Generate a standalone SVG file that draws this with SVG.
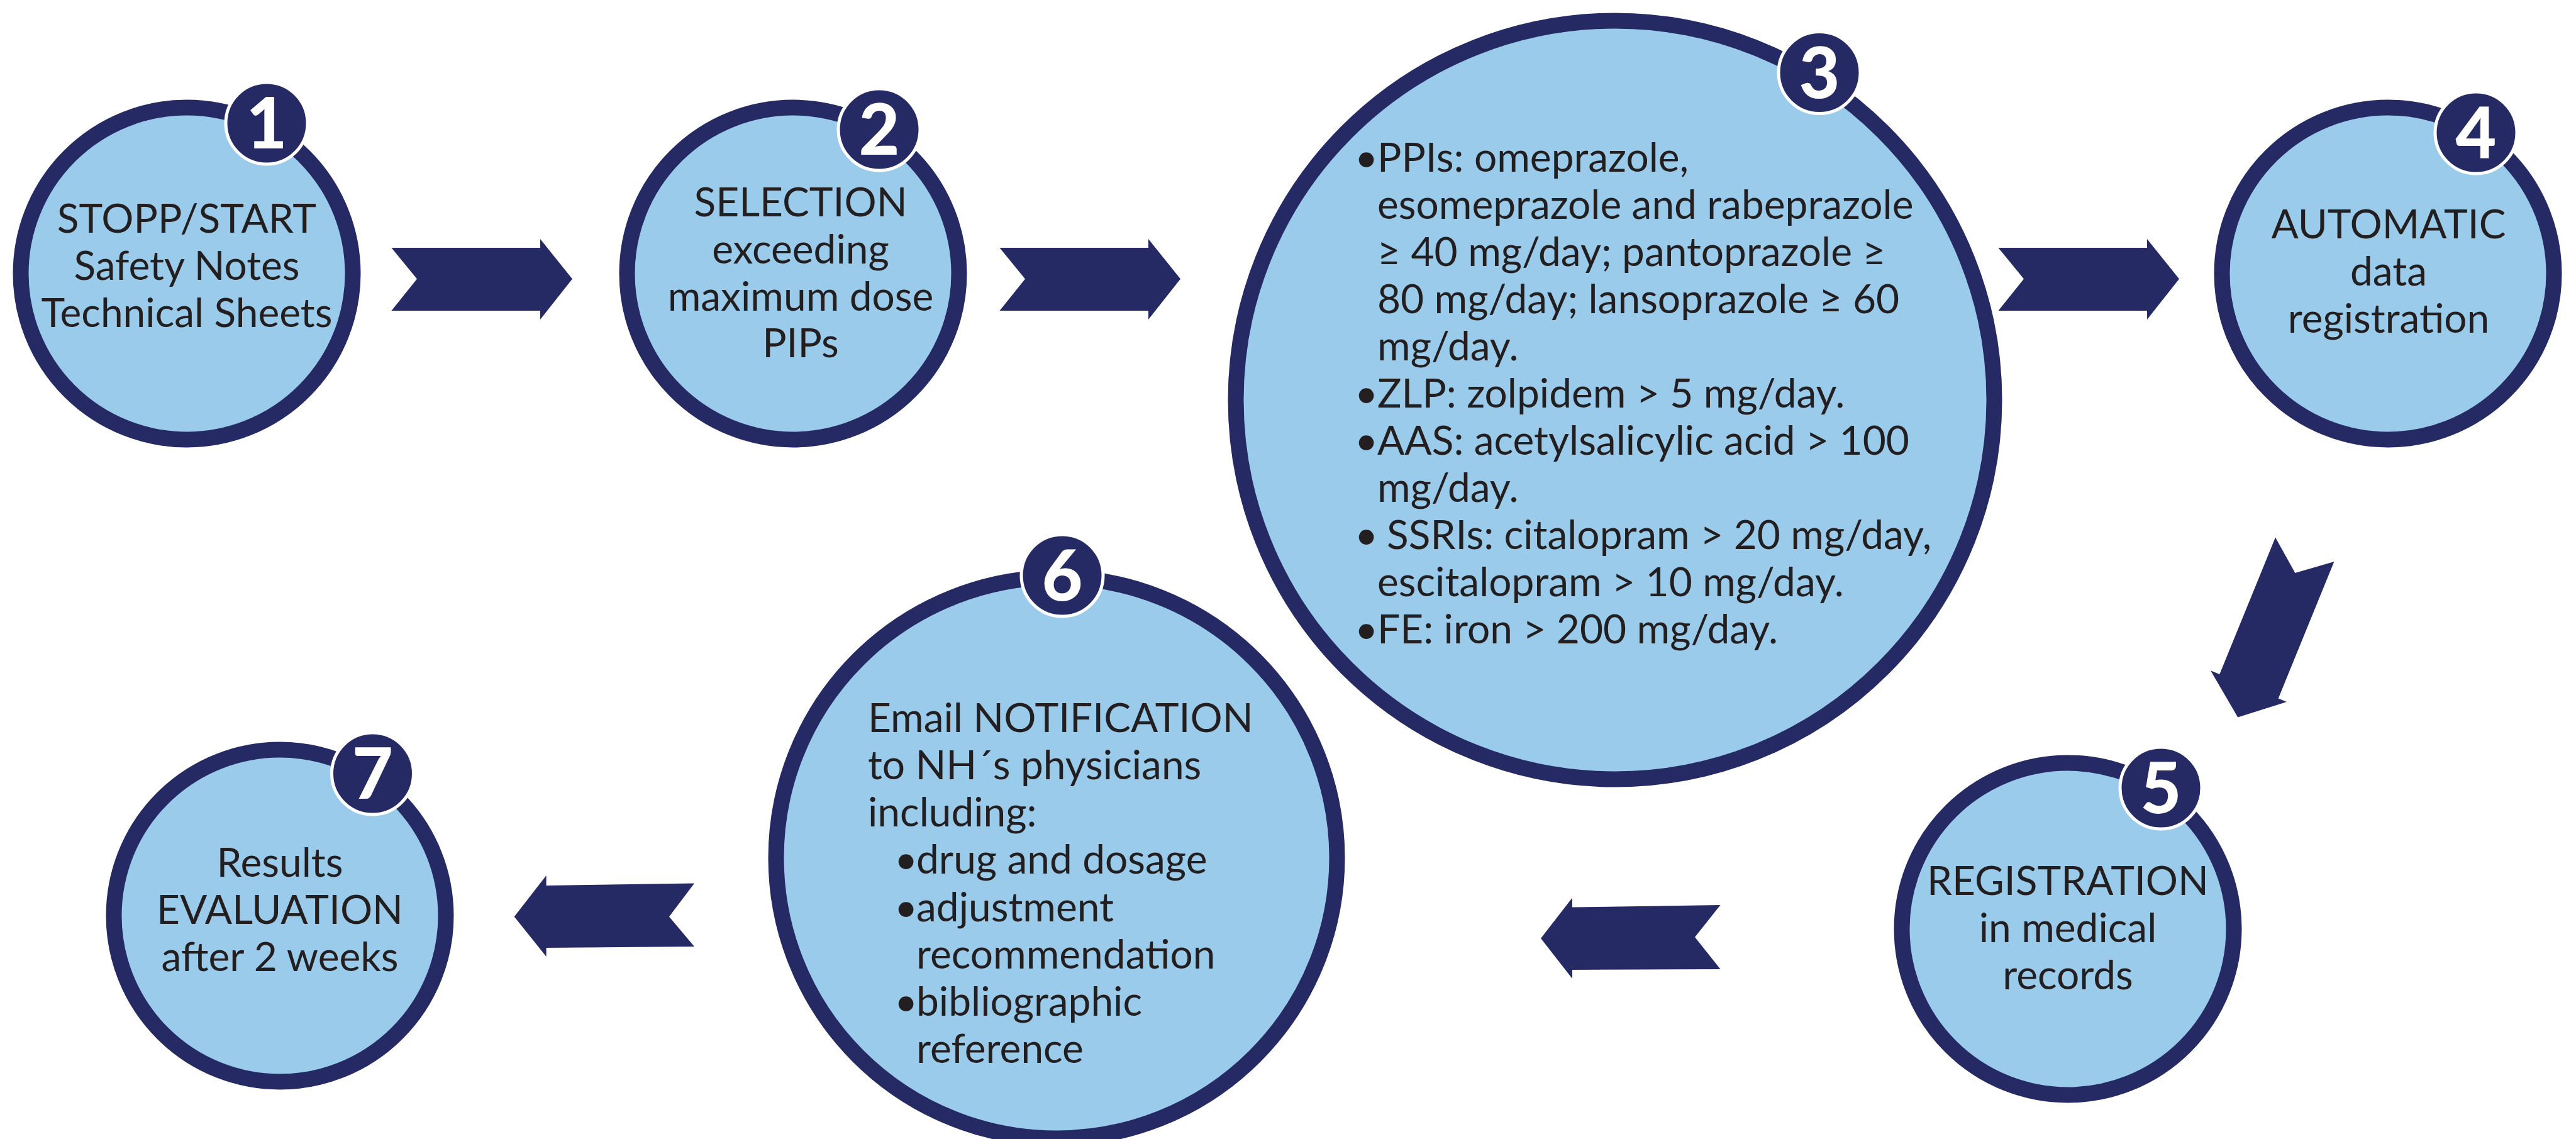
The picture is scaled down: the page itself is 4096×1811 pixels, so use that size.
<svg xmlns="http://www.w3.org/2000/svg" width="4096" height="1811" viewBox="0 0 4096 1811">
<style>
.node{fill:#9BCBEB;stroke:#252A64;stroke-width:25}
.badge{fill:#252A64;stroke:#FFFFFF;stroke-width:5}
.num{font-family:Lato,"Liberation Sans",sans-serif;font-weight:900;font-size:112px;fill:#FFFFFF;text-anchor:middle}
.t{font-family:Lato,"Liberation Sans",sans-serif;font-size:64px;fill:#231F20}
.c{text-anchor:middle}
.arrow{fill:#252A64}
</style>
<rect width="4096" height="1811" fill="#FFFFFF"/>
<g id="connectors">
<polygon class="arrow" points="622.5,394 663,443.5 622.5,494 859,494 859,508 910,443.5 859,380 859,394"/>
<polygon class="arrow" points="1589.5,394 1630,443.5 1589.5,494 1826,494 1826,508 1877,443.5 1826,380 1826,394"/>
<polygon class="arrow" points="3177.5,394 3218,443.5 3177.5,494 3414,494 3414,508 3465,443.5 3414,380 3414,394"/>
<polygon class="arrow" points="3618,854.4 3649.4,910.9 3711.4,892.9 3622.7,1110.5 3635.9,1116 3558.3,1140.5 3515,1066.2 3529.3,1072"/>
<polygon class="arrow" points="2735.5,1439 2695,1490 2735.5,1541 2500,1542 2500,1556 2450,1492 2500,1427.6 2500,1442.6"/>
<polygon class="arrow" points="1104,1404.5 1064,1457.6 1104,1505 868.6,1507 868.6,1521 817.7,1457.6 868.6,1392 868.6,1408"/>
</g>
<g id="node1">
<circle class="node" cx="297" cy="435" r="264"/>
<circle class="badge" cx="424" cy="196" r="65"/>
<text class="num" x="424" y="236">1</text>
<text class="t c" x="297" y="370">STOPP/START</text>
<text class="t c" x="297" y="445">Safety Notes</text>
<text class="t c" x="297" y="520">Technical Sheets</text>
</g>
<g id="node2">
<circle class="node" cx="1261" cy="435" r="264"/>
<circle class="badge" cx="1398" cy="206" r="65"/>
<text class="num" x="1398" y="246">2</text>
<text class="t c" x="1273" y="344">SELECTION</text>
<text class="t c" x="1273" y="419">exceeding</text>
<text class="t c" x="1273" y="494">maximum dose</text>
<text class="t c" x="1273" y="568">PIPs</text>
</g>
<g id="node3">
<circle class="node" cx="2568" cy="636" r="603"/>
<circle class="badge" cx="2893" cy="115.5" r="65"/>
<text class="num" x="2893" y="155.5">3</text>
<text class="t">
<tspan x="2154" y="272.6">•</tspan><tspan x="2190">PPIs: omeprazole,</tspan>
<tspan x="2190" y="347.7">esomeprazole and rabeprazole</tspan>
<tspan x="2190" y="422.8">≥ 40 mg/day; pantoprazole ≥</tspan>
<tspan x="2190" y="497.9">80 mg/day; lansoprazole ≥ 60</tspan>
<tspan x="2190" y="573">mg/day.</tspan>
<tspan x="2154" y="648">•</tspan><tspan x="2190">ZLP: zolpidem &gt; 5 mg/day.</tspan>
<tspan x="2154" y="723">•</tspan><tspan x="2190">AAS: acetylsalicylic acid &gt; 100</tspan>
<tspan x="2190" y="798">mg/day.</tspan>
<tspan x="2154" y="873">•</tspan><tspan x="2205">SSRIs: citalopram &gt; 20 mg/day,</tspan>
<tspan x="2190" y="948">escitalopram &gt; 10 mg/day.</tspan>
<tspan x="2154" y="1023">•</tspan><tspan x="2190">FE: iron &gt; 200 mg/day.</tspan>
</text>
</g>
<g id="node4">
<circle class="node" cx="3797" cy="435" r="264"/>
<circle class="badge" cx="3937" cy="211" r="65"/>
<text class="num" x="3937" y="251">4</text>
<text class="t c" x="3798" y="379">AUTOMATIC</text>
<text class="t c" x="3798" y="454">data</text>
<text class="t c" x="3798" y="529">registration</text>
</g>
<g id="node5">
<circle class="node" cx="3288" cy="1477" r="264"/>
<circle class="badge" cx="3436" cy="1253" r="65"/>
<text class="num" x="3436" y="1293">5</text>
<text class="t c" x="3288" y="1423">REGISTRATION</text>
<text class="t c" x="3288" y="1498">in medical</text>
<text class="t c" x="3288" y="1573">records</text>
</g>
<g id="node6">
<circle class="node" cx="1680" cy="1364" r="446"/>
<circle class="badge" cx="1689" cy="915" r="65"/>
<text class="num" x="1689" y="955">6</text>
<text class="t">
<tspan x="1380" y="1164">Email NOTIFICATION</tspan>
<tspan x="1380" y="1239">to NH´s physicians</tspan>
<tspan x="1380" y="1314">including:</tspan>
<tspan x="1422" y="1389">•</tspan><tspan x="1457">drug and dosage</tspan>
<tspan x="1422" y="1465">•</tspan><tspan x="1457">adjustment</tspan>
<tspan x="1457" y="1540">recommendation</tspan>
<tspan x="1422" y="1615">•</tspan><tspan x="1457">bibliographic</tspan>
<tspan x="1457" y="1690">reference</tspan>
</text>
</g>
<g id="node7">
<circle class="node" cx="445" cy="1456" r="264"/>
<circle class="badge" cx="592.5" cy="1230" r="65"/>
<text class="num" x="592.5" y="1270">7</text>
<text class="t c" x="445" y="1394">Results</text>
<text class="t c" x="445" y="1469">EVALUATION</text>
<text class="t c" x="445" y="1544">after 2 weeks</text>
</g>
</svg>
